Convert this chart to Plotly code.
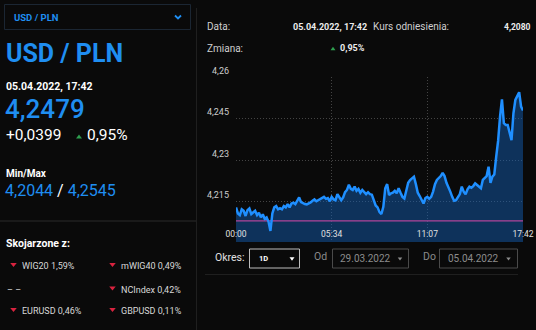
import plotly.graph_objects as go

W, H = 536, 330

# USD/PLN intraday quotes, 05.04.2022 (evenly spaced ticks of the feed)
prices = [
    4.2129, 4.2107, 4.2101, 4.2122, 4.2117, 4.2098, 4.2119, 4.2125, 4.2105, 4.2110,
    4.2117, 4.2101, 4.2110, 4.2093, 4.2104, 4.2088, 4.2093, 4.2077, 4.2044, 4.2107,
    4.2129, 4.2134, 4.2122, 4.2126, 4.2122, 4.2134, 4.2129, 4.2141, 4.2129, 4.2143,
    4.2146, 4.2141, 4.2155, 4.2165, 4.2148, 4.2143, 4.2141, 4.2140, 4.2143, 4.2147,
    4.2153, 4.2158, 4.2151, 4.2155, 4.2158, 4.2165, 4.2167, 4.2160, 4.2163, 4.2151,
    4.2167, 4.2158, 4.2155, 4.2177, 4.2167, 4.2155, 4.2165, 4.2184, 4.2192, 4.2211,
    4.2196, 4.2192, 4.2204, 4.2189, 4.2196, 4.2182, 4.2192, 4.2184, 4.2177, 4.2184,
    4.2177, 4.2175, 4.2153, 4.2136, 4.2129, 4.2112, 4.2105, 4.2131, 4.2198, 4.2213,
    4.2174, 4.2180, 4.2182, 4.2189, 4.2180, 4.2198, 4.2182, 4.2167, 4.2161, 4.2192,
    4.2218, 4.2228, 4.2234, 4.2240, 4.2213, 4.2182, 4.2170, 4.2158, 4.2143, 4.2163,
    4.2167, 4.2160, 4.2167, 4.2186, 4.2213, 4.2228, 4.2234, 4.2242, 4.2254, 4.2242,
    4.2218, 4.2204, 4.2186, 4.2167, 4.2153, 4.2155, 4.2165, 4.2177, 4.2204, 4.2186,
    4.2176, 4.2194, 4.2204, 4.2200, 4.2206, 4.2216, 4.2210, 4.2204, 4.2198, 4.2228,
    4.2234, 4.2242, 4.2276, 4.2218, 4.2240, 4.2248, 4.2312, 4.2370, 4.2457, 4.2519,
    4.2433, 4.2427, 4.2427, 4.2396, 4.2372, 4.2469, 4.2517, 4.2531, 4.2545, 4.2493,
    4.2479,
]
time_labels = ["00:00", "05:34", "11:07", "17:42"]
y_ticks = [4.215, 4.23, 4.245, 4.26]
y_tick_text = ["4,215", "4,23", "4,245", "4,26"]

pair = "USD / PLN"
quote_time = "05.04.2022, 17:42"
reference_rate = 4.2080
last_price = 4.2479
change_abs = 0.0399
change_pct = 0.95
day_min = 4.2044
day_max = 4.2545

related_names = ["WIG20", "mWIG40", None, "NCIndex", "EURUSD", "GBPUSD"]
related_changes = [-1.59, -0.49, None, -0.42, -0.46, -0.11]

period = "1D"
date_from = "29.03.2022"
date_to = "05.04.2022"

BG = "#0a0a0a"
BLUE = "#1f8ef1"
GREEN = "#2e9e4f"
RED = "#d9233f"
FONT = "Roboto"


def fmt(v, d=4):
    return f"{v:.{d}f}".replace(".", ",")


def px(x):
    return x / W


def py(y):
    return 1 - y / H


annotations = []
shapes = []


def text(s, x, y, size, color="#e6e6e6", weight="normal", anchor="left"):
    annotations.append(dict(
        text=s, x=px(x), y=py(y), xref="paper", yref="paper",
        xanchor=anchor, yanchor="middle", showarrow=False,
        font=dict(family=FONT, size=size, color=color, weight=weight),
    ))


def rect(x0, y0, x1, y1, color, width=1):
    shapes.append(dict(type="rect", xref="paper", yref="paper",
                       x0=px(x0), x1=px(x1), y0=py(y1), y1=py(y0),
                       line=dict(color=color, width=width), fillcolor="rgba(0,0,0,0)"))


def hline(x0, x1, y, color):
    shapes.append(dict(type="line", xref="paper", yref="paper",
                       x0=px(x0), x1=px(x1), y0=py(y), y1=py(y),
                       line=dict(color=color, width=1)))


def triangle(cx, cy, w, h, up, color):
    if up:
        pts = [(cx - w / 2, cy + h / 2), (cx + w / 2, cy + h / 2), (cx, cy - h / 2)]
    else:
        pts = [(cx - w / 2, cy - h / 2), (cx + w / 2, cy - h / 2), (cx, cy + h / 2)]
    path = "M " + " L ".join(f"{px(a):.5f},{py(b):.5f}" for a, b in pts) + " Z"
    shapes.append(dict(type="path", xref="paper", yref="paper", path=path,
                       fillcolor=color, line=dict(width=0)))


# ---- left panel -------------------------------------------------------
rect(4.5, 4.5, 190.5, 29.5, "#1b2633")
text(pair, 12, 17.5, 9.5, BLUE, "bold")
shapes.append(dict(type="path", xref="paper", yref="paper",
                   path=f"M {px(175):.5f},{py(15.5):.5f} L {px(178):.5f},{py(18.5):.5f} L {px(181):.5f},{py(15.5):.5f}",
                   line=dict(color=BLUE, width=1.8)))

text(pair, 4, 54, 25, BLUE, "bold")
text(quote_time, 4, 86, 10.5, "#ffffff", "bold")
text(fmt(last_price), 3, 108.5, 26, BLUE, 500)
text(("+" if change_abs >= 0 else "") + fmt(change_abs), 4, 134.5, 15.5, "#ffffff")
triangle(79, 136.5, 6, 4, change_pct >= 0, GREEN)
text(fmt(abs(change_pct), 2) + "%", 85, 134.5, 15.5, "#ffffff")

text("Min/Max", 4, 174, 10, "#ffffff", "bold")
text(f"<span style='color:{BLUE}'>{fmt(day_min)}</span> / <span style='color:{BLUE}'>{fmt(day_max)}</span>",
     3, 191, 16, "#ffffff")

hline(0, 196, 221, "#2a2a2a")
shapes.append(dict(type="line", xref="paper", yref="paper",
                   x0=px(196.5), x1=px(196.5), y0=py(330), y1=py(8),
                   line=dict(color="#1f1f1f", width=1)))

text("Skojarzone z:", 4, 243.5, 10.5, "#ffffff", "bold")
row_y = [266, 266, 289.5, 289.5, 311, 311]
col_x = [5, 104, 5, 104, 5, 104]
for name, chg, rx, ry in zip(related_names, related_changes, col_x, row_y):
    if name is None:
        text("– –", rx, ry, 9, "#d8d8d8")
        continue
    triangle(rx + 8.5, ry - 1, 6.5, 4, chg >= 0, GREEN if chg >= 0 else RED)
    text(f"{name} {fmt(abs(chg), 2)}%", rx + 14.5, ry, 9, "#d8d8d8")

# ---- right panel header -----------------------------------------------
text("Data:", 205, 27, 10, "#cfcfcf")
text(quote_time, 291, 27, 9, "#ececec", "bold")
text("Kurs odniesienia:", 371, 27, 10, "#cfcfcf")
text(fmt(reference_rate), 533, 27, 8.5, "#ececec", "bold", anchor="right")
text("Zmiana:", 205, 48, 10, "#cfcfcf")
triangle(333, 48.5, 5, 3.5, change_pct >= 0, GREEN)
text(fmt(abs(change_pct), 2) + "%", 338, 48, 9, "#ececec", "bold")

# ---- period controls --------------------------------------------------
text("Okres:", 213, 257, 10.5, "#e0e0e0")
rect(249.5, 249, 299.5, 268, "#bdbdbd")
text(period, 257, 258.5, 7.5, "#ffffff", "bold")
triangle(292, 259, 5, 3.5, False, "#ffffff")
text("Od", 312, 256, 10.5, "#8a8a8a")
rect(332.5, 249, 408.5, 268, "#4a4a4a")
text(date_from, 338, 258, 10, "#8c8c8c")
triangle(400, 259, 4.5, 3, False, "#8c8c8c")
text("Do", 421, 256, 10.5, "#8a8a8a")
rect(439.5, 249, 517.5, 268, "#4a4a4a")
text(date_to, 446, 258, 10, "#8c8c8c")
triangle(508.5, 259, 4.5, 3, False, "#8c8c8c")
hline(205, 518, 274.5, "#1f1f1f")

# ---- price chart --------------------------------------------------------
n = len(prices)
xs = list(range(n))
tick_pos = [round(i * (n - 1) / (len(time_labels) - 1)) for i in range(len(time_labels))]

fig = go.Figure()
fig.add_trace(go.Scatter(x=xs, y=prices, mode="lines", line=dict(width=0),
                         fill="tozeroy", fillcolor="rgba(20,100,190,0.45)",
                         hoverinfo="skip", showlegend=False))
fig.add_trace(go.Scatter(x=[0, n - 1], y=[reference_rate, reference_rate], mode="lines",
                         line=dict(color="#b0449a", width=1.2), showlegend=False))
fig.add_trace(go.Scatter(x=xs, y=prices, mode="lines",
                         line=dict(color="#1f8fff", width=2.5), showlegend=False))

fig.update_layout(
    template="none",
    width=W, height=H, autosize=False,
    margin=dict(l=0, r=0, t=0, b=0, pad=0, autoexpand=False),
    paper_bgcolor=BG, plot_bgcolor=BG,
    font=dict(family=FONT, color="#dddddd"),
    annotations=annotations, shapes=shapes,
    xaxis=dict(domain=[px(236), px(523)], range=[0, n - 1], automargin=False,
               tickvals=tick_pos, ticktext=time_labels,
               ticklabelposition="inside", ticklabeloverflow="allow",
               showgrid=True, gridcolor="#444444", griddash="1px,2px", gridwidth=1,
               zeroline=False, showline=False, ticks="",
               tickfont=dict(size=8.5, color="#e0e0e0")),
    yaxis=dict(domain=[py(242), py(77)], range=[4.2004, 4.26], automargin=False,
               tickvals=y_ticks, ticktext=y_tick_text,
               ticklabelposition="outside top", ticklabelstandoff=6,
               showgrid=True, gridcolor="#444444", griddash="1px,2px", gridwidth=1,
               zeroline=False, showline=False, ticks="",
               tickfont=dict(size=9, color="#cccccc")),
)

# the page itself adds no border around the figure
fig.write_html("out.html", config={"displayModeBar": False},
               post_script="document.body.style.margin='0';document.body.style.padding='0';"
                           "document.body.style.overflow='hidden';document.body.style.background='#0a0a0a';")
